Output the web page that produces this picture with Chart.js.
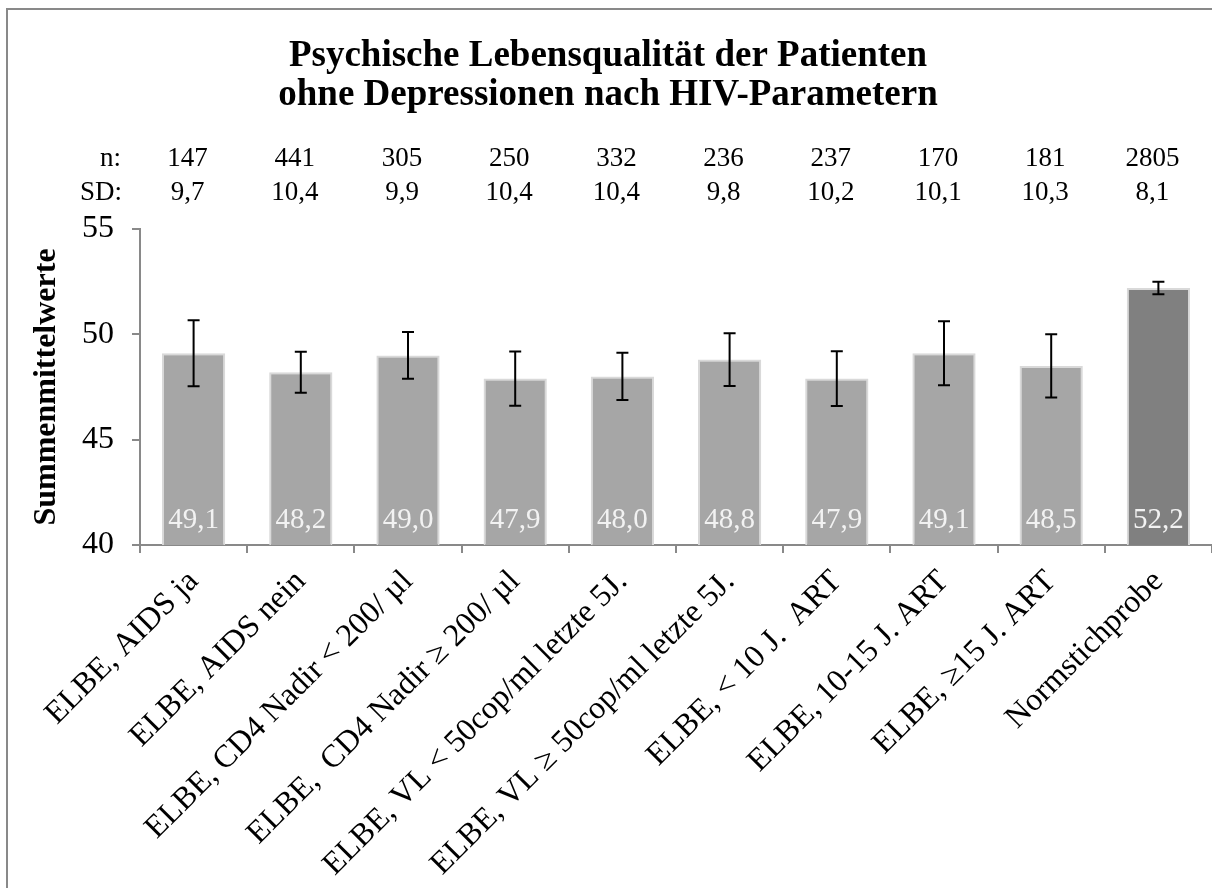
<!DOCTYPE html>
<html>
<head>
<meta charset="utf-8">
<script src="https://cdn.jsdelivr.net/npm/chart.js@4/dist/chart.umd.min.js"></script>
<style>
  html, body { margin: 0; padding: 0; background: #fff; }
  #wrap { width: 1212px; height: 888px; }
</style>
</head>
<body>
<div id="wrap"><canvas id="myChart" width="1212" height="888"></canvas></div>
<script>
'use strict';

// categories and values
let groupLabels = [
  'ELBE, AIDS ja',
  'ELBE, AIDS nein',
  'ELBE, CD4 Nadir < 200/ µl',
  'ELBE,  CD4 Nadir ≥ 200/ µl',
  'ELBE, VL < 50cop/ml letzte 5J.',
  'ELBE, VL ≥ 50cop/ml letzte 5J.',
  'ELBE, < 10 J.  ART',
  'ELBE, 10-15 J. ART',
  'ELBE, ≥15 J. ART',
  'Normstichprobe'
];
let meanValues = [49.1, 48.2, 49.0, 47.9, 48.0, 48.8, 47.9, 49.1, 48.5, 52.2];
let ciHalf = [1.57, 0.97, 1.11, 1.29, 1.12, 1.25, 1.30, 1.52, 1.50, 0.30];
let nValues = ['147', '441', '305', '250', '332', '236', '237', '170', '181', '2805'];
let sdValues = ['9,7', '10,4', '9,9', '10,4', '10,4', '9,8', '10,2', '10,1', '10,3', '8,1'];
let titleLines = ['Psychische Lebensqualität der Patienten', 'ohne Depressionen nach HIV-Parametern'];
let yTicks = [40, 45, 50, 55];

const serif = '"Liberation Serif", "Times New Roman", serif';
const axisGrey = '#898989';

let barColors = meanValues.map(function (v, i) {
  return i === meanValues.length - 1 ? '#808080' : '#a6a6a6';
});

// frame, title, n / SD rows
const headerPlugin = {
  id: 'header',
  beforeDraw(chart) {
    const ctx = chart.ctx;
    ctx.save();
    ctx.fillStyle = '#fff';
    ctx.fillRect(0, 0, chart.width, chart.height);
    ctx.strokeStyle = axisGrey;
    ctx.lineWidth = 2;
    ctx.beginPath();
    ctx.moveTo(7, chart.height + 5);
    ctx.lineTo(7, 9);
    ctx.lineTo(chart.width + 5, 9);
    ctx.stroke();
    ctx.restore();
  },
  afterDraw(chart) {
    const ctx = chart.ctx;
    const x = chart.scales.x;
    ctx.save();
    ctx.fillStyle = '#000';
    ctx.textBaseline = 'alphabetic';
    ctx.textAlign = 'center';
    ctx.font = 'bold 37px ' + serif;
    ctx.fillText(titleLines[0], 608, 66);
    ctx.fillText(titleLines[1], 608, 105);

    ctx.font = '27px ' + serif;
    ctx.textAlign = 'right';
    ctx.fillText('n:', 121, 166);
    ctx.fillText('SD:', 122, 200);
    ctx.textAlign = 'center';
    for (let i = 0; i < nValues.length; i++) {
      let cx = x.getPixelForValue(i) - 6;
      ctx.fillText(nValues[i], cx, 166);
      ctx.fillText(sdValues[i], cx, 200);
    }
    ctx.restore();
  }
};

// error bars and value labels inside the bars
const barExtras = {
  id: 'barExtras',
  afterDatasetsDraw(chart) {
    const ctx = chart.ctx;
    const y = chart.scales.y;
    const meta = chart.getDatasetMeta(0);
    ctx.save();
    for (let i = 0; i < meta.data.length; i++) {
      let bar = meta.data[i];
      let top = y.getPixelForValue(meanValues[i] + ciHalf[i]);
      let bottom = y.getPixelForValue(meanValues[i] - ciHalf[i]);
      ctx.strokeStyle = '#000';
      ctx.lineWidth = 2;
      ctx.beginPath();
      ctx.moveTo(bar.x, top);
      ctx.lineTo(bar.x, bottom);
      ctx.moveTo(bar.x - 6, top);
      ctx.lineTo(bar.x + 6, top);
      ctx.moveTo(bar.x - 6, bottom);
      ctx.lineTo(bar.x + 6, bottom);
      ctx.stroke();

      ctx.fillStyle = '#f2f2f2';
      ctx.font = '29px ' + serif;
      ctx.textAlign = 'center';
      ctx.textBaseline = 'alphabetic';
      ctx.fillText(meanValues[i].toFixed(1).replace('.', ','), bar.x, y.bottom - 17);
    }
    ctx.restore();
  }
};

const ctx = document.getElementById('myChart');

new Chart(ctx, {
  type: 'bar',
  data: {
    labels: groupLabels,
    datasets: [{
      data: meanValues,
      backgroundColor: barColors,
      borderColor: '#d9d9d9',
      borderWidth: 2,
      borderSkipped: false,
      barPercentage: 0.59,
      categoryPercentage: 1
    }]
  },
  options: {
    responsive: false,
    animation: false,
    layout: { padding: { top: 229, left: 0, right: 0, bottom: 0 } },
    plugins: {
      legend: { display: false },
      tooltip: { enabled: false }
    },
    scales: {
      x: {
        afterFit(scale) { scale.height = 343; },
        grid: { drawOnChartArea: false, color: axisGrey, lineWidth: 2, tickLength: 8 },
        border: { color: axisGrey, width: 2 },
        ticks: {
          autoSkip: false,
          maxRotation: 45,
          minRotation: 45,
          color: '#000',
          padding: 10,
          font: { family: serif, size: 32 }
        }
      },
      y: {
        min: 40,
        max: 55,
        afterFit(scale) { scale.width = 140; },
        afterBuildTicks(scale) {
          scale.ticks = yTicks.map(function (v) { return { value: v }; });
        },
        grid: { drawOnChartArea: false, color: axisGrey, lineWidth: 2, tickLength: 8 },
        border: { color: axisGrey, width: 2 },
        ticks: {
          color: '#000',
          padding: 18,
          font: { family: serif, size: 32 }
        },
        title: {
          display: true,
          text: 'Summenmittelwerte',
          color: '#000',
          padding: { top: 28, bottom: 0 },
          font: { family: serif, size: 32, weight: 'bold' }
        }
      }
    }
  },
  plugins: [headerPlugin, barExtras]
});
</script>
</body>
</html>
